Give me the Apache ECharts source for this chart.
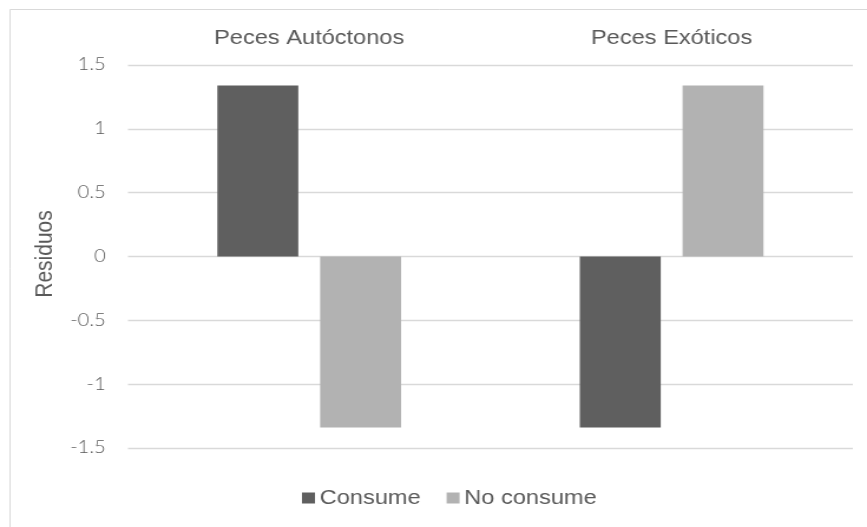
<!DOCTYPE html>
<html>
<head>
<meta charset="utf-8">
<script src="https://cdn.jsdelivr.net/npm/echarts@6/dist/echarts.min.js"></script>
<style>
  html, body { margin: 0; padding: 0; background: #ffffff; overflow: hidden; }
  /* the chart is laid out on a narrower canvas and widened to fill the window */
  #chart { width: 735px; height: 527px; transform: scaleX(1.1796); transform-origin: 0 0; }
</style>
</head>
<body>
<div id="chart"></div>
<script>
// Residuals by fish group and consumption
const categories = ['Peces Autóctonos', 'Peces Exóticos'];
const seriesNames = ['Consume', 'No consume'];
const consume = [1.34, -1.34];
const noConsume = [-1.34, 1.34];
const yTicks = { min: -1.5, max: 1.5, interval: 0.5 };

const textColor = '#595959';
const gridColor = '#d9d9d9';
const darkGray = '#5f5f5f';
const lightGray = '#b2b2b2';

const chart = echarts.init(document.getElementById('chart'), null, { renderer: 'canvas' });

chart.setOption({
  animation: false,
  backgroundColor: '#ffffff',
  graphic: [{
    type: 'rect',
    left: 6, top: 7,
    shape: { width: 900, height: 700 },
    style: { fill: 'none', stroke: gridColor, lineWidth: 1 },
    silent: true
  }],
  grid: { left: 108.5, right: 12, top: 65, bottom: 79, containLabel: false },
  legend: {
    data: seriesNames,
    left: 251,
    top: 483,
    itemWidth: 11,
    itemHeight: 11,
    itemGap: 22,
    icon: 'rect',
    textStyle: { color: textColor, fontFamily: 'Liberation Sans', fontSize: 20, padding: [0, 0, 0, -1] }
  },
  xAxis: {
    type: 'category',
    data: categories,
    position: 'top',
    axisLine: { show: false },
    axisTick: { show: false },
    axisLabel: { color: textColor, fontFamily: 'Liberation Sans', fontSize: 20, margin: 17 },
    splitLine: { show: false }
  },
  yAxis: {
    type: 'value',
    min: yTicks.min,
    max: yTicks.max,
    interval: yTicks.interval,
    name: 'Residuos',
    nameLocation: 'middle',
    nameRotate: 90,
    nameGap: 40,
    nameTextStyle: { color: textColor, fontFamily: 'Liberation Sans', fontSize: 21, padding: [0, 0, 0, 5] },
    axisLine: { show: false },
    axisTick: { show: false },
    axisLabel: { color: textColor, fontFamily: 'Lato', fontWeight: 300, fontSize: 17, margin: 19 },
    splitLine: { lineStyle: { color: gridColor, width: 1.3 } }
  },
  series: [
    {
      name: seriesNames[0],
      type: 'bar',
      data: consume,
      barWidth: 68.6,
      barGap: '27%',
      itemStyle: { color: darkGray }
    },
    {
      name: seriesNames[1],
      type: 'bar',
      data: noConsume,
      barWidth: 68.6,
      barGap: '27%',
      itemStyle: { color: lightGray }
    }
  ]
});
</script>
</body>
</html>
